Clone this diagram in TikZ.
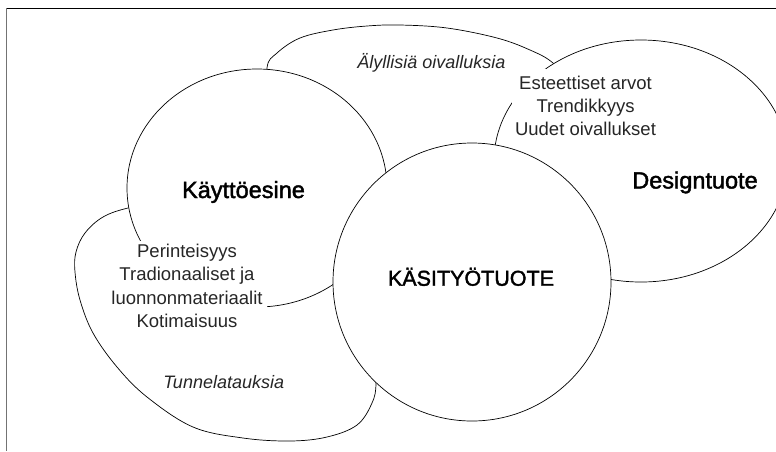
\documentclass[tikz,border=0pt]{standalone}
\usepackage{fontspec}
\setmainfont{Liberation Sans}
\newfontfamily\titlefont[FakeBold=1.8]{Liberation Sans}
\begin{document}
\begin{tikzpicture}[x=1pt,y=-1pt,
  blob/.style={draw=black,fill=white,line width=0.7pt},
  title/.style={anchor=base,inner sep=0pt,text=black},
  body/.style={anchor=base,inner sep=0pt,text=black!85,font=\fontsize{18}{23}\selectfont\itshape},
  listbox/.style={anchor=north,fill=white,align=center,text=black!85,font=\fontsize{18.5}{23.2}\selectfont}]
\useasboundingbox (0,0) rectangle (776,451);
% frame
\coordinate (fc) at (6.5,8);
\coordinate (fr) at (776,8);
\coordinate (fb) at (6.5,451);
\draw[black,line width=1pt] (fc) -- (fr);
\draw[black!55,line width=1.3pt] (fc) -- (fb);
% upper ellipse (Älyllisiä oivalluksia)
\draw[blob] plot[smooth cycle,tension=0.6] coordinates {
  (270,110) (267,68) (277,53) (300,38) (333,30) (367,26) (400,25) (447,28)
  (497,38) (530,50) (553,63) (575,88) (560,130) (500,165) (450,185)
  (390,195) (350,185) (300,150)};
% lower ellipse (Tunnelatauksia)
\draw[blob] plot[smooth cycle,tension=0.6] coordinates {
  (128,208) (103,217) (85,233) (76,252) (75,272) (80,300) (93,333) (117,367)
  (147,397) (193,427) (243,438) (290,441) (327,437) (357,425) (372,403)
  (376,383) (373,350) (365,300) (356,258) (320,232) (260,213) (200,204) (160,203)};
% Käyttöesine
\draw[blob] (257,188) ellipse [x radius=130, y radius=119];
% Designtuote
\draw[blob] (641,161) ellipse [x radius=147, y radius=121];
% Käsityötuote
\draw[blob] (472,282) circle [radius=139];
% text boxes
\node[listbox,inner xsep=3pt,inner ysep=6.5pt] (design) at (585.5,69)
  {Esteettiset arvot\\Trendikkyys\\Uudet oivallukset};
\node[listbox,inner xsep=4pt,inner ysep=3pt] (kaytto) at (187,241)
  {Perinteisyys\\Tradionaaliset ja\\luonnonmateriaalit\\Kotimaisuus};
% titles
\node[title,font=\titlefont\fontsize{23.5}{26}\selectfont] (tk) at (243.5,198) {Käyttöesine};
\node[title,font=\titlefont\fontsize{23.5}{26}\selectfont] (td) at (695,188.5) {Designtuote};
\node[title,font=\titlefont\fontsize{21.5}{26}\selectfont] (tc) at (471,285.7) {KÄSITYÖTUOTE};
% italic labels
\node[body] (aly) at (431.5,68) {Älyllisiä oivalluksia};
\node[body] (tun) at (223.7,388.3) {Tunnelatauksia};
\end{tikzpicture}
\end{document}
